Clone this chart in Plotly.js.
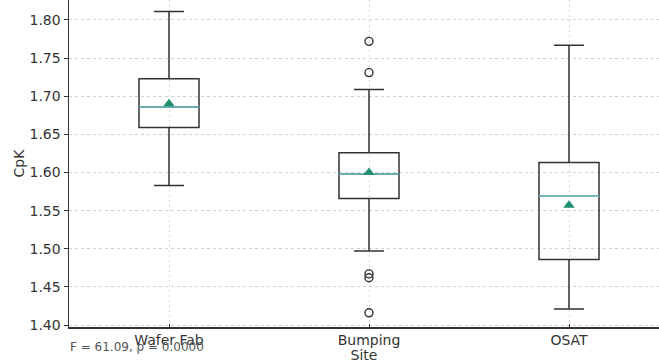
<!DOCTYPE html>
<html>
<head>
<meta charset="utf-8">
<script src="https://cdn.plot.ly/plotly-3.0.1.min.js"></script>
<style>html,body{margin:0;padding:0;background:#fff;}#chart{width:659px;height:363px;}</style>
</head>
<body>
<div id="chart"></div>
<script>
// Data
var sites = ['Wafer Fab', 'Bumping', 'OSAT'];
var q1Values = [1.659, 1.566, 1.486];
var medianValues = [1.686, 1.598, 1.569];
var q3Values = [1.723, 1.626, 1.613];
var lowerWhisker = [1.583, 1.497, 1.421];
var upperWhisker = [1.811, 1.709, 1.767];
var meanValues = [1.690, 1.600, 1.557];
var outlierSites = ['Bumping', 'Bumping', 'Bumping', 'Bumping', 'Bumping'];
var outlierValues = [1.772, 1.731, 1.467, 1.462, 1.416];
var statText = 'F = 61.09, p = 0.0000';
var yTicks = [1.40, 1.45, 1.50, 1.55, 1.60, 1.65, 1.70, 1.75, 1.80];

var font = 'DejaVu Sans, Liberation Sans, sans-serif';
var dark = '#333333';

var traces = [
  {
    type: 'box', name: 'CpK', x: sites,
    q1: q1Values, median: medianValues, q3: q3Values,
    lowerfence: lowerWhisker, upperfence: upperWhisker,
    boxpoints: false, width: 0.3, whiskerwidth: 0.5,
    fillcolor: 'rgba(0,0,0,0)',
    line: {color: dark, width: 1.5},
    hoverinfo: 'skip', showlegend: false
  },
  {
    // median overlay line (teal)
    type: 'box', name: 'median', x: sites,
    q1: medianValues, median: medianValues, q3: medianValues,
    lowerfence: medianValues, upperfence: medianValues,
    boxpoints: false, width: 0.3, whiskerwidth: 0,
    fillcolor: 'rgba(0,0,0,0)',
    line: {color: '#6cc3c9', width: 1.5},
    hoverinfo: 'skip', showlegend: false
  },
  {
    type: 'scatter', mode: 'markers', x: sites, y: meanValues,
    marker: {symbol: 'triangle-up', size: 10, color: '#1e8f72'},
    hoverinfo: 'skip', showlegend: false
  },
  {
    type: 'scatter', mode: 'markers', x: outlierSites, y: outlierValues,
    marker: {symbol: 'circle-open', size: 8, color: dark, line: {width: 1.4, color: dark}},
    hoverinfo: 'skip', showlegend: false
  }
];

var layout = {
  width: 659, height: 363,
  margin: {l: 69, r: 0, t: 0, b: 36},
  paper_bgcolor: '#ffffff', plot_bgcolor: '#ffffff',
  boxmode: 'overlay',
  showlegend: false,
  font: {family: font, size: 13, color: '#333333'},
  xaxis: {
    type: 'category', categoryorder: 'array', categoryarray: sites,
    range: [-0.5, 2.45],
    showline: true, linecolor: dark, linewidth: 1.5,
    ticks: 'inside', ticklen: 3, tickcolor: dark,
    showgrid: true, gridcolor: '#dadada', griddash: '2px,3px', gridwidth: 1,
    zeroline: false,
    tickfont: {family: font, size: 14, color: '#333333'},
    title: {text: 'Site', font: {family: font, size: 14, color: '#333333'}, standoff: 0},
    automargin: false
  },
  yaxis: {
    range: [1.3974, 1.8262],
    tickvals: yTicks,
    ticktext: yTicks.map(function (v) { return v.toFixed(2); }),
    showline: true, linecolor: dark, linewidth: 1.5,
    ticks: 'outside', ticklen: 4, tickcolor: dark,
    showgrid: true, gridcolor: '#cfcfcf', griddash: '3px,3px', gridwidth: 1,
    zeroline: false,
    tickfont: {family: font, size: 14, color: '#333333'},
    title: {text: 'CpK', font: {family: font, size: 14, color: '#333333'}, standoff: 1},
    automargin: false
  },
  annotations: [
    {
      text: statText, xref: 'paper', yref: 'paper',
      x: -0.002, y: -0.062, xanchor: 'left', yanchor: 'middle',
      showarrow: false,
      font: {family: font, size: 12, color: '#555555'}
    }
  ]
};

Plotly.newPlot('chart', traces, layout, {displayModeBar: false, staticPlot: true});
</script>
</body>
</html>
